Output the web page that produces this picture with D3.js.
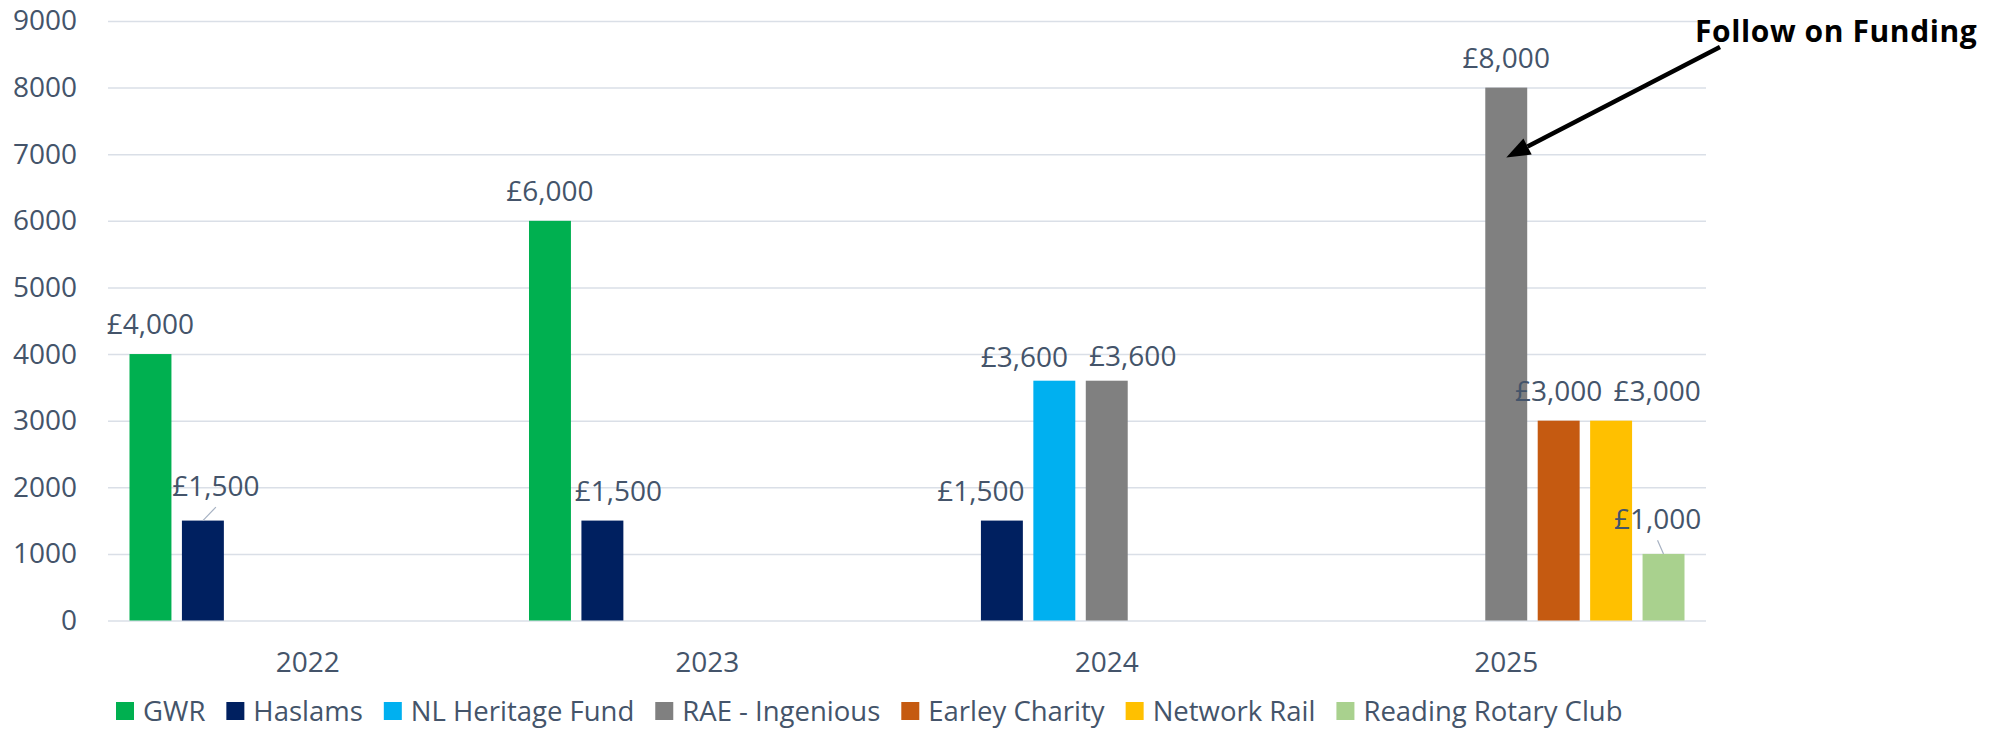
<!DOCTYPE html>
<html>
<head>
<meta charset="utf-8">
<script src="https://cdn.jsdelivr.net/npm/d3@7"></script>
<style>
  html, body { margin: 0; padding: 0; background: #fff; overflow: hidden; }
  svg { display: block; }
  text { font-family: "Open Sans", sans-serif; }
</style>
</head>
<body>
<svg id="chart"></svg>
<script>
const width = 2008;
const height = 729;

// Data
const years = ["2022", "2023", "2024", "2025"];
const series = ["GWR", "Haslams", "NL Heritage Fund", "RAE - Ingenious", "Earley Charity", "Network Rail", "Reading Rotary Club"];
const colors = ["#00b050", "#002060", "#00b0f0", "#808080", "#c55a11", "#ffc000", "#a9d18e"];
const gwr = [4000, 6000, null, null];
const haslams = [1500, 1500, 1500, null];
const nlHeritage = [null, null, 3600, null];
const raeIngenious = [null, null, 3600, 8000];
const earley = [null, null, null, 3000];
const networkRail = [null, null, null, 3000];
const readingRotary = [null, null, null, 1000];
const yTicks = [0, 1000, 2000, 3000, 4000, 5000, 6000, 7000, 8000, 9000];

const values = [gwr, haslams, nlHeritage, raeIngenious, earley, networkRail, readingRotary];

// Label nudges (Excel moved some labels by hand), keyed "series|year"
const labelNudge = {
  "Haslams|2022": { dx: 13, dy: -4.5, leader: true },
  "Haslams|2023": { dx: 16, dy: 0 },
  "Haslams|2024": { dx: -21, dy: 0 },
  "NL Heritage Fund|2024": { dx: -30, dy: 6 },
  "RAE - Ingenious|2024": { dx: 26, dy: 5 },
  "Network Rail|2025": { dx: 46, dy: 0 },
  "Reading Rotary Club|2025": { dx: -6, dy: -4.7, leader: true }
};

const textColor = "#44546a";

const svg = d3.select("#chart")
  .attr("width", width)
  .attr("height", height)
  .attr("font-family", "'Open Sans', sans-serif")
  .attr("font-size", 28);

const margin = { top: 21, right: 302, bottom: 108.5, left: 108 };
const innerWidth = width - margin.left - margin.right;
const innerHeight = height - margin.top - margin.bottom;

const g = svg.append("g")
  .attr("transform", `translate(${margin.left},${margin.top})`);

const x0 = d3.scaleBand()
  .domain(years)
  .range([0, innerWidth])
  .padding(0);

const x1 = d3.scaleBand()
  .domain(series)
  .range([0, x0.bandwidth()])
  .paddingInner(0.2)
  .paddingOuter(0.41);

const y = d3.scaleLinear()
  .domain([0, 9000])
  .range([innerHeight, 0]);

// Y axis with gridlines
const yAxis = d3.axisLeft(y)
  .tickValues(yTicks)
  .tickSize(-innerWidth)
  .tickPadding(31)
  .tickFormat(d3.format("d"));

const yAxisG = g.append("g").call(yAxis)
  .attr("font-size", 28)
  .attr("font-family", "'Open Sans', sans-serif");
yAxisG.select(".domain").remove();
yAxisG.selectAll("line")
  .attr("stroke", "#dadfe7")
  .attr("stroke-width", 1.5);
yAxisG.selectAll("text")
  .attr("fill", textColor);

// X axis labels
const xAxis = d3.axisBottom(x0).tickSize(0).tickPadding(32);
const xAxisG = g.append("g")
  .attr("transform", `translate(0,${innerHeight})`)
  .call(xAxis)
  .attr("font-size", 28)
  .attr("font-family", "'Open Sans', sans-serif");
xAxisG.select(".domain").remove();
xAxisG.selectAll("text")
  .attr("fill", textColor);

// Flatten for bars
const bars = [];
series.forEach((s, i) => {
  years.forEach((yr, j) => {
    const v = values[i][j];
    if (v != null) bars.push({ series: s, year: yr, value: v, color: colors[i] });
  });
});

g.selectAll(".bar")
  .data(bars)
  .enter()
  .append("rect")
  .attr("class", "bar")
  .attr("x", d => x0(d.year) + x1(d.series))
  .attr("y", d => y(d.value))
  .attr("width", x1.bandwidth())
  .attr("height", d => innerHeight - y(d.value))
  .attr("fill", d => d.color);

// Data labels
const fmt = d => "£" + d3.format(",")(d);
const labelPos = d => {
  const n = labelNudge[d.series + "|" + d.year] || { dx: 0, dy: 0 };
  const cx = x0(d.year) + x1(d.series) + x1.bandwidth() / 2;
  return { cx, top: y(d.value), lx: cx + n.dx, ly: y(d.value) - 20 + n.dy, leader: n.leader };
};

g.selectAll(".leader")
  .data(bars.filter(d => labelPos(d).leader))
  .enter()
  .append("line")
  .attr("x1", d => labelPos(d).cx)
  .attr("y1", d => labelPos(d).top)
  .attr("x2", d => labelPos(d).lx)
  .attr("y2", d => labelPos(d).ly + 11)
  .attr("stroke", "#a6b1c2")
  .attr("stroke-width", 1.2);

g.selectAll(".label")
  .data(bars)
  .enter()
  .append("text")
  .attr("class", "label")
  .attr("x", d => labelPos(d).lx)
  .attr("y", d => labelPos(d).ly)
  .attr("text-anchor", "middle")
  .attr("fill", textColor)
  .attr("font-size", 28)
  .text(d => fmt(d.value));

// Annotation arrow pointing at RAE 2025 bar
const tipX = x0("2025") + x1("RAE - Ingenious") + x1.bandwidth() / 2;
const tipY = y(6950);
const startX = 1720 - margin.left;
const startY = 47 - margin.top;
const ang = Math.atan2(tipY - startY, tipX - startX);
const headLen = 24, headW = 9;
const baseX = tipX - headLen * Math.cos(ang);
const baseY = tipY - headLen * Math.sin(ang);

g.append("line")
  .attr("x1", startX)
  .attr("y1", startY)
  .attr("x2", baseX)
  .attr("y2", baseY)
  .attr("stroke", "#000")
  .attr("stroke-width", 4.5);

g.append("path")
  .attr("d", d3.line()([
    [tipX, tipY],
    [baseX + headW * Math.sin(ang), baseY - headW * Math.cos(ang)],
    [baseX - headW * Math.sin(ang), baseY + headW * Math.cos(ang)]
  ]) + "Z")
  .attr("fill", "#000");

svg.append("text")
  .attr("x", 1695)
  .attr("y", 42)
  .attr("fill", "#000")
  .attr("font-size", 30)
  .attr("font-weight", "bold")
  .attr("letter-spacing", 0.6)
  .text("Follow on Funding");

// Legend
const legend = svg.append("g").attr("transform", "translate(116, 702)");
let lx = 0;
series.forEach((s, i) => {
  const item = legend.append("g").attr("transform", `translate(${lx},0)`);
  item.append("rect")
    .attr("width", 18)
    .attr("height", 18)
    .attr("fill", colors[i]);
  const t = item.append("text")
    .attr("x", 27)
    .attr("y", 18.5)
    .attr("fill", textColor)
    .attr("font-size", 27.5)
    .text(s);
  lx += 27 + t.node().getComputedTextLength() + 21;
});
</script>
</body>
</html>
